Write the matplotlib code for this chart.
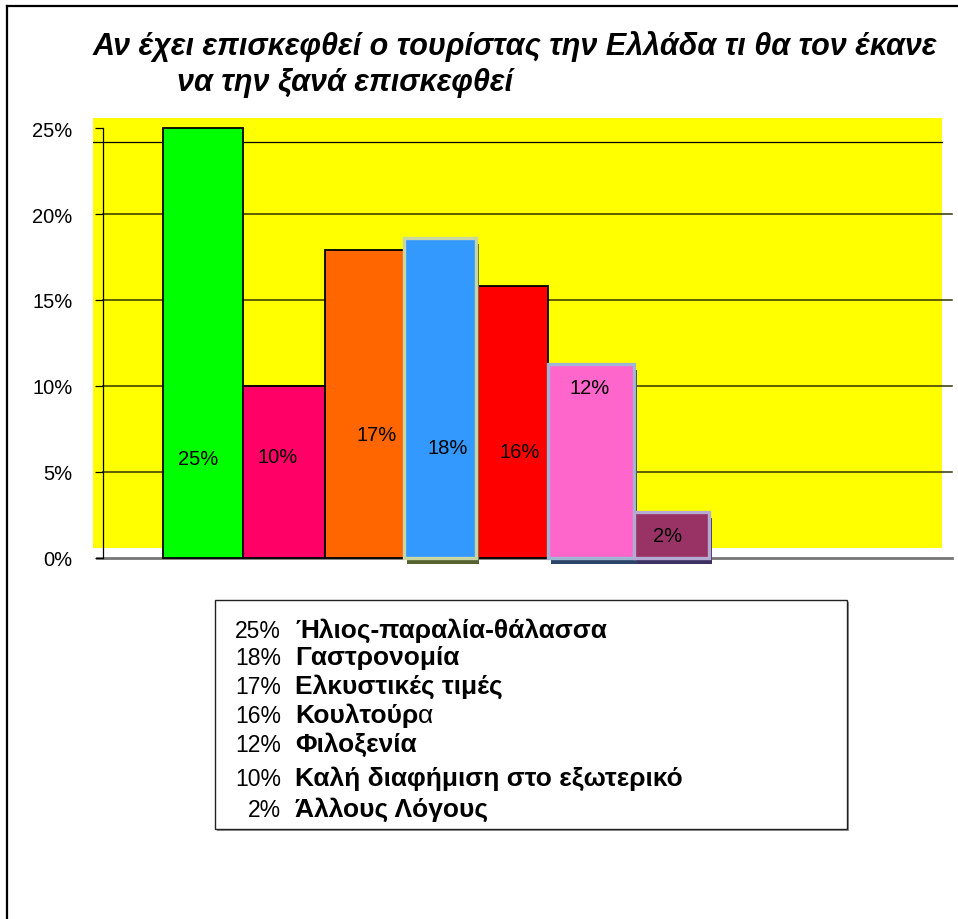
import matplotlib
matplotlib.use("Agg")
import matplotlib.pyplot as plt
import matplotlib.patheffects as pe
from matplotlib.patches import Rectangle
from matplotlib.lines import Line2D
import numpy as np

plt.rcParams['font.family'] = ['Liberation Sans', 'DejaVu Sans']

# chart data
bar_heights = [25, 10, 17.9, 18.6, 15.8, 11.3, 2.7]
bar_labels = ['25%', '10%', '17%', '18%', '16%', '12%', '2%']
yticks = [0, 5, 10, 15, 20, 25]
ytick_labels = ['0%', '5%', '10%', '15%', '20%', '25%']

legend_pcts = ['25%', '18%', '17%', '16%', '12%', '10%', '2%']
legend_names = ['Ήλιος-παραλία-θάλασσα', 'Γαστρονομία', 'Ελκυστικές τιμές',
                'Κουλτούρ', 'Φιλοξενία', 'Καλή διαφήμιση στο εξωτερικό',
                'Άλλους Λόγους']
legend_tails = ['', '', '', 'α', '', '', '']

title_1 = 'Αν έχει επισκεφθεί ο τουρίστας την Ελλάδα τι θα τον έκανε'
title_2 = 'να την ξανά επισκεφθεί'

# layout / style
bar_widths = [1.02, 1.05, 1.02, 0.92, 0.92, 1.10, 0.96]
face_colors = ['#00FF00', '#FF0066', '#FF6600', '#3399FF', '#FF0000', '#FF66CC', '#993366']
edge_colors = ['black', 'black', 'black', '#C8D6A4', 'black', '#A0B4D4', '#B4AAD2']
edge_widths = [1.3, 1.3, 1.3, 2.4, 1.3, 2.4, 2.4]
shadow_colors = [None, None, None, '#566330', None, '#2B4468', '#3E3262']
label_y = [5.8, 5.9, 7.2, 6.4, 6.2, 9.9, 1.3]
label_dx = [-0.06, -0.08, 0.16, 0.1, 0.1, -0.02, -0.05]

W, H = 958, 920
fig = plt.figure(figsize=(W / 100, H / 100), dpi=100)


def fx(x):
    return x / W


def fy(y):
    return 1 - y / H


# figure border (top and left only visible)
fig.add_artist(Line2D([fx(7), 1], [fy(7), fy(7)], color='black', lw=1.6))
fig.add_artist(Line2D([fx(7), fx(7)], [fy(7), 0], color='black', lw=1.6))

# plot axes spanning px x 93..952, y 119..559
ax = fig.add_axes([fx(93), fy(559), fx(952) - fx(93), fy(119) - fy(559)])
unit = 78.1  # px per bar slot
x0 = -(163 - 93) / unit
x1 = (952 - 163) / unit
ax.set_xlim(x0, x1)
ax.set_ylim(0, (559 - 119) / 17.2)
ax.set_facecolor('none')
for s in ['top', 'right', 'bottom']:
    ax.spines[s].set_visible(False)
axis_x = -(163 - 103) / unit
ax.spines['left'].set_position(('data', axis_x))
ax.spines['left'].set_bounds(0, 25)
ax.spines['left'].set_linewidth(0.9)
ax.set_xticks([])
ax.set_yticks(yticks)
ax.set_yticklabels(ytick_labels, fontsize=14.5)
ax.tick_params(axis='y', direction='out', length=6, width=0.9, pad=16)

# yellow wall
yellow_right = (942 - 163) / unit
ax.add_patch(Rectangle((x0, 0.58), yellow_right - x0, 25.58 - 0.58,
                       facecolor='#FFFF00', edgecolor='none', zorder=0))
# gridlines
for v in yticks[1:-1]:
    ax.plot([axis_x, x1], [v, v], color='#333300', lw=1.1, zorder=1, clip_on=False)
ax.plot([x0, yellow_right], [24.2, 24.2], color='black', lw=0.9, zorder=1)
ax.plot([axis_x - 6 / unit, x1], [0, 0], color='#777777', lw=2, zorder=1, clip_on=False)

# bars
lefts = np.concatenate([[0], np.cumsum(bar_widths)[:-1]])
for i, h in enumerate(bar_heights):
    r = ax.bar(lefts[i], h, width=bar_widths[i], align='edge',
               color=face_colors[i], edgecolor=edge_colors[i],
               linewidth=edge_widths[i], zorder=3 + (1 if shadow_colors[i] else 0))[0]
    r.set_clip_on(False)
    if shadow_colors[i]:
        r.set_path_effects([pe.SimplePatchShadow(offset=(2.2, -4.3),
                                                 shadow_rgbFace=shadow_colors[i],
                                                 alpha=1.0),
                            pe.Normal()])
    ax.text(lefts[i] + bar_widths[i] / 2 + label_dx[i], label_y[i], bar_labels[i],
            ha='center', va='center', fontsize=14.5, zorder=6)

# title
fig.text(fx(93), fy(47), title_1, fontsize=22, fontweight='bold', fontstyle='italic',
         ha='left', va='center')
fig.text(fx(177), fy(83), title_2, fontsize=22, fontweight='bold', fontstyle='italic',
         ha='left', va='center')

# legend-like text box
fig.add_artist(Rectangle((fx(217), fy(832)), fx(847) - fx(215), fy(601) - fy(830),
                         facecolor='#999999', edgecolor='none', transform=fig.transFigure))
fig.add_artist(Rectangle((fx(215), fy(830)), fx(847) - fx(215), fy(601) - fy(830),
                         facecolor='white', edgecolor='#222222', lw=1.0,
                         transform=fig.transFigure))
row_y = [638, 665, 694, 723, 752, 786, 817]
renderer = fig.canvas.get_renderer()
for i, (p, n) in enumerate(zip(legend_pcts, legend_names)):
    t = fig.text(fx(281), fy(row_y[i]), p, fontsize=16.5, ha='right', va='baseline')
    bb = t.get_window_extent(renderer)
    nt = fig.text(bb.x1 / W + fx(14), fy(row_y[i]), n, fontsize=19, fontweight='bold',
                  ha='left', va='baseline')
    if legend_tails[i]:
        bb2 = nt.get_window_extent(renderer)
        fig.text(bb2.x1 / W, fy(row_y[i]), legend_tails[i], fontsize=19,
                 ha='left', va='baseline')

fig.savefig('out.png', dpi=100)
